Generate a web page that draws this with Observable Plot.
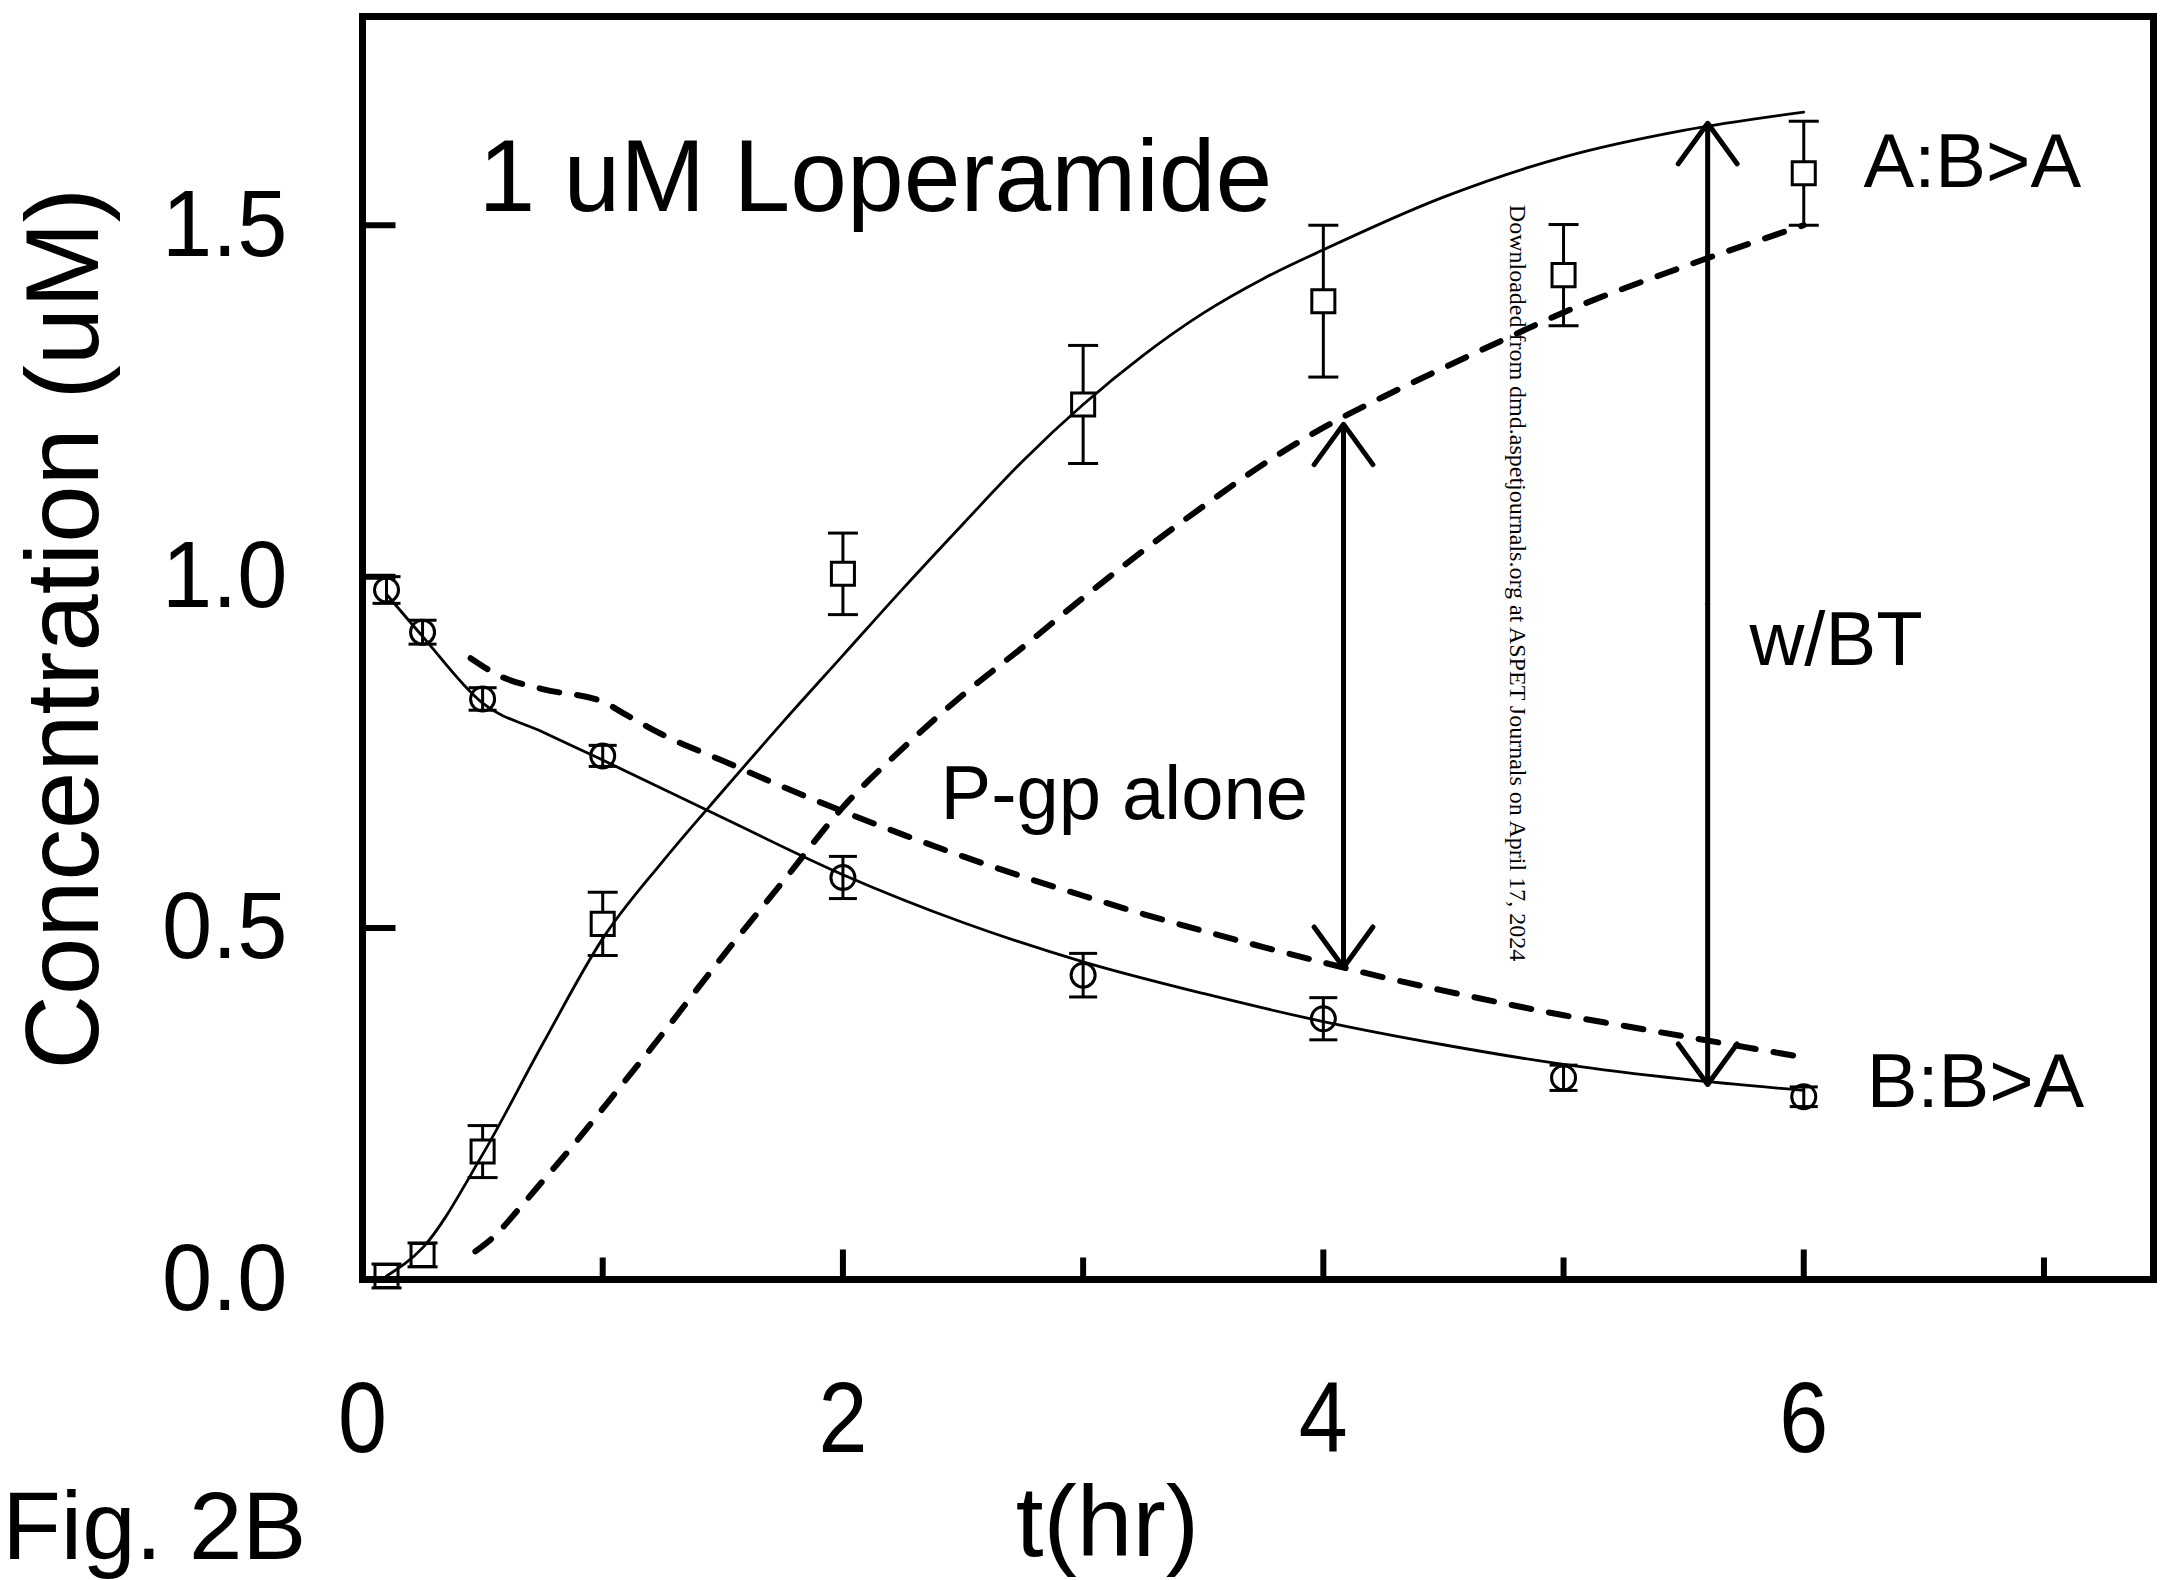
<!DOCTYPE html>
<html>
<head>
<meta charset="utf-8">
<script src="https://cdn.jsdelivr.net/npm/d3@7"></script>
<script src="https://cdn.jsdelivr.net/npm/@observablehq/plot@0.6"></script>
<style>
  html, body { margin: 0; padding: 0; background: #fff; overflow: hidden; }
</style>
</head>
<body>
<div id="chart"></div>
<script>
// ---------- measured data ----------
const sampleTimes = [0.1, 0.25, 0.5, 1, 2, 3, 4, 5, 6];
// A:B>A (apical receiver, squares)
const apicalMean = [0.005, 0.035, 0.182, 0.506, 1.004, 1.245, 1.392, 1.429, 1.574];
const apicalErr  = [0.017, 0.017, 0.037, 0.045, 0.058, 0.084, 0.108, 0.072, 0.074];
// B:B>A (basolateral donor, circles)
const basalMean  = [0.981, 0.921, 0.826, 0.745, 0.572, 0.433, 0.371, 0.287, 0.260];
const basalErr   = [0.019, 0.017, 0.016, 0.015, 0.030, 0.031, 0.030, 0.018, 0.014];

// fitted curves, w/BT (solid)
const btApicalT = [0.1, 0.25, 0.5, 0.75, 1.0, 1.25, 1.5, 1.75, 2.0, 2.25, 2.5, 2.75, 3.0, 3.25, 3.5, 3.75, 4.0, 4.5, 5.0, 5.5, 6.0];
const btApicalC = [0.005, 0.045, 0.178, 0.335, 0.485, 0.595, 0.695, 0.793, 0.888, 0.983, 1.075, 1.165, 1.245, 1.315, 1.375, 1.424, 1.465, 1.540, 1.597, 1.635, 1.661];
const btBasalT  = [0.1, 0.25, 0.5, 0.75, 1.0, 1.5, 2.0, 2.5, 3.0, 3.5, 4.0, 4.5, 5.0, 5.5, 6.0];
const btBasalC  = [0.975, 0.915, 0.820, 0.779, 0.739, 0.657, 0.576, 0.508, 0.452, 0.407, 0.367, 0.334, 0.306, 0.285, 0.269];

// fitted curves, P-gp alone (dashed)
const pgpApicalT = [0.47, 0.55, 0.65, 0.75, 0.875, 1.0, 1.25, 1.5, 1.75, 2.0, 2.25, 2.5, 2.75, 3.0, 3.25, 3.5, 3.75, 4.0, 4.25, 4.5, 4.75, 5.0, 5.5, 6.0];
const pgpApicalC = [0.040, 0.062, 0.100, 0.140, 0.190, 0.243, 0.350, 0.460, 0.566, 0.672, 0.756, 0.832, 0.900, 0.970, 1.037, 1.100, 1.160, 1.212, 1.256, 1.297, 1.337, 1.376, 1.441, 1.500];
const pgpBasalT  = [0.45, 0.57, 0.75, 1.0, 1.1, 1.25, 1.5, 1.75, 2.0, 2.25, 2.5, 2.75, 3.0, 3.25, 3.5, 3.75, 4.0, 4.25, 4.5, 4.75, 5.0, 5.25, 5.5, 5.75, 6.0];
const pgpBasalC  = [0.884, 0.859, 0.840, 0.822, 0.803, 0.775, 0.738, 0.701, 0.666, 0.633, 0.602, 0.573, 0.546, 0.520, 0.496, 0.473, 0.451, 0.430, 0.411, 0.393, 0.376, 0.361, 0.346, 0.331, 0.316];

// double-headed arrows
const arrowT      = [4.084, 5.600];
const arrowTop    = [1.217, 1.645];
const arrowBottom = [0.444, 0.2775];

// axes
const xLabelTicks = [0, 2, 4, 6];
const xMajorTicks = [2, 4, 6];
const xMinorTicks = [1, 3, 5, 7];
const yTicks = [0, 0.5, 1.0, 1.5];
const xDomain = [0, 7.456];
const yDomain = [0, 1.797];

// text annotations (positions in data units)
const noteText = ["1 uM Loperamide", "A:B>A", "B:B>A", "w/BT", "P-gp alone"];
const noteT    = [0.483, 6.249, 6.262, 5.774, 2.406];
const noteC    = [1.520, 1.554, 0.245, 0.874, 0.655];
const noteSize = [102, 76, 76, 76, 76];

const yTitle = "Concentration (uM)";
const xTitle = "t(hr)";
const figLabel = "Fig. 2B";
const watermark = "Downloaded from dmd.aspetjournals.org at ASPET Journals on April 17, 2024";

// ---------- build tables ----------
const zip = (T, C) => T.map((t, i) => ({t, c: C[i]}));
const apical = sampleTimes.map((t, i) => ({t, c: apicalMean[i], e: apicalErr[i]}));
const basal  = sampleTimes.map((t, i) => ({t, c: basalMean[i], e: basalErr[i]}));
const arrows = arrowT.flatMap((t, i) => {
  const mid = (arrowTop[i] + arrowBottom[i]) / 2;
  return [{t, y1: mid, y2: arrowTop[i]}, {t, y1: mid, y2: arrowBottom[i]}];
});
const notes = noteText.map((s, i) => ({s, t: noteT[i], c: noteC[i], size: noteSize[i]}));

// custom line symbols for caps and inward ticks
const rOf = (size) => Math.sqrt(size / Math.PI);
const capSymbol = {draw(ctx, size) { const r = rOf(size); ctx.moveTo(-r, 0); ctx.lineTo(r, 0); }};
const tickUp    = {draw(ctx, size) { const r = rOf(size); ctx.moveTo(0, 0); ctx.lineTo(0, -r); }};
const tickRight = {draw(ctx, size) { const r = rOf(size); ctx.moveTo(0, 0); ctx.lineTo(r, 0); }};

const SANS = "'Liberation Sans', Arial, Helvetica, sans-serif";
const SERIF = "'Liberation Serif', 'Times New Roman', serif";

const chart = Plot.plot({
  width: 2166,
  height: 1580,
  marginLeft: 362,
  marginRight: 13,
  marginTop: 16,
  marginBottom: 301,
  x: {domain: xDomain},
  y: {domain: yDomain},
  style: {fontFamily: SANS, background: "#fff", color: "#000"},
  marks: [
    // tick labels
    Plot.axisX({ticks: xLabelTicks, tickSize: 0, tickPadding: 101, fontSize: 100, label: null, tickFormat: d => String(d)}),
    Plot.axisY({ticks: yTicks, tickSize: 0, tickPadding: 75, fontSize: 95, label: null, tickFormat: d3.format(".1f")}),
    // inward ticks
    Plot.dot(xMajorTicks, {x: d => d, y: 0, symbol: tickUp, r: 30, stroke: "#000", fill: "none", strokeWidth: 6}),
    Plot.dot(xMinorTicks, {x: d => d, y: 0, symbol: tickUp, r: 22, stroke: "#000", fill: "none", strokeWidth: 6}),
    Plot.dot(yTicks, {x: 0, y: d => d, symbol: tickRight, r: 33, stroke: "#000", fill: "none", strokeWidth: 6}),
    // error bars
    Plot.ruleX(apical, {x: "t", y1: d => d.c - d.e, y2: d => d.c + d.e, strokeWidth: 3}),
    Plot.ruleX(basal, {x: "t", y1: d => d.c - d.e, y2: d => d.c + d.e, strokeWidth: 3}),
    Plot.dot(apical, {x: "t", y: d => d.c - d.e, symbol: capSymbol, r: 15, stroke: "#000", fill: "none", strokeWidth: 3}),
    Plot.dot(apical, {x: "t", y: d => d.c + d.e, symbol: capSymbol, r: 15, stroke: "#000", fill: "none", strokeWidth: 3}),
    Plot.dot(basal, {x: "t", y: d => d.c - d.e, symbol: capSymbol, r: 14, stroke: "#000", fill: "none", strokeWidth: 3}),
    Plot.dot(basal, {x: "t", y: d => d.c + d.e, symbol: capSymbol, r: 14, stroke: "#000", fill: "none", strokeWidth: 3}),
    // markers
    Plot.dot(apical, {x: "t", y: "c", symbol: "square", r: 13, stroke: "#000", fill: "#fff", strokeWidth: 3}),
    Plot.dot(basal, {x: "t", y: "c", symbol: "circle", r: 12, stroke: "#000", fill: "none", strokeWidth: 3}),
    // fitted curves
    Plot.line(zip(btApicalT, btApicalC), {x: "t", y: "c", curve: "monotone-x", stroke: "#000", strokeWidth: 2.8}),
    Plot.line(zip(btBasalT, btBasalC), {x: "t", y: "c", curve: "monotone-x", stroke: "#000", strokeWidth: 2.8}),
    Plot.line(zip(pgpApicalT, pgpApicalC), {x: "t", y: "c", curve: "monotone-x", stroke: "#000", strokeWidth: 6, strokeDasharray: "20,18"}),
    Plot.line(zip(pgpBasalT, pgpBasalC), {x: "t", y: "c", curve: "monotone-x", stroke: "#000", strokeWidth: 6, strokeDasharray: "20,18"}),
    // arrows
    Plot.arrow(arrows, {x: "t", y1: "y1", y2: "y2", headAngle: 72, headLength: 15, strokeWidth: 5, stroke: "#000"}),
    // annotations
    Plot.text(notes, {x: "t", y: "c", text: "s", fontSize: "size", textAnchor: "start", lineAnchor: "bottom", fill: "#000"}),
    Plot.text([yTitle], {x: -1.103, y: 0.926, text: d => d, rotate: -90, fontSize: 103, textAnchor: "middle", lineAnchor: "bottom", fill: "#000"}),
    Plot.text([xTitle], {x: 3.101, y: -0.393, text: d => d, fontSize: 100, textAnchor: "middle", lineAnchor: "bottom", fill: "#000"}),
    Plot.text([figLabel], {x: -1.500, y: -0.398, text: d => d, fontSize: 96, textAnchor: "start", lineAnchor: "bottom", fill: "#000"}),
    Plot.text([watermark], {x: 4.808, y: 0.991, text: d => d, rotate: 90, fontSize: 24, fontFamily: SERIF, textAnchor: "middle", lineAnchor: "middle", fill: "#000"}),
    // frame
    Plot.frame({stroke: "#000", strokeWidth: 7})
  ]
});

// tick labels in the original are slightly condensed
const condense = [['[aria-label="x-axis tick label"] text', 0.88], ['[aria-label="y-axis tick label"] text', 0.95]];
for (const [sel, k] of condense) {
  chart.querySelectorAll(sel).forEach(t => {
    t.setAttribute("transform", (t.getAttribute("transform") || "") + ` scale(${k},1)`);
  });
}

document.getElementById("chart").appendChild(chart);
</script>
</body>
</html>
